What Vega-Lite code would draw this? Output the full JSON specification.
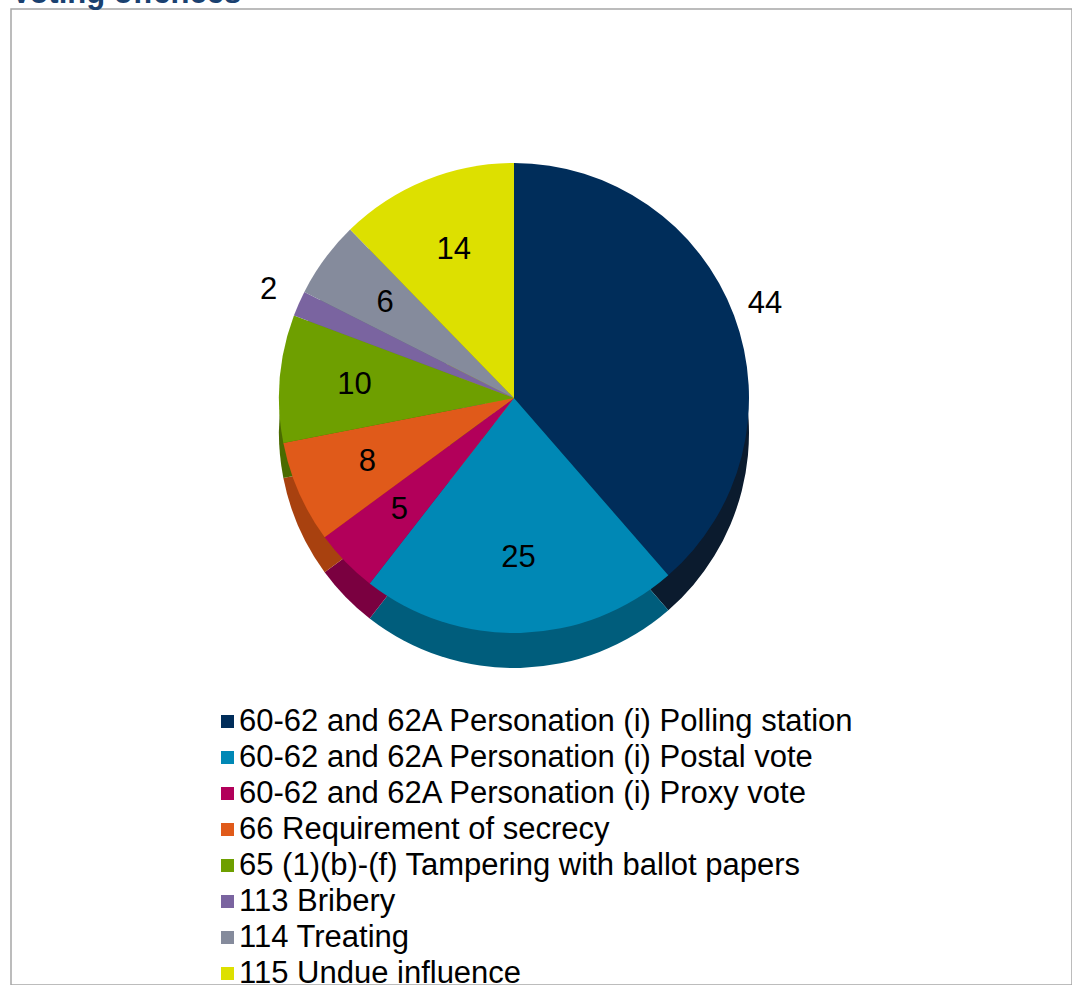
{
  "$schema": "https://vega.github.io/schema/vega-lite/v6.json",
  "width": 1061,
  "height": 976,
  "autosize": "none",
  "padding": {"left": 11, "top": 9, "right": 0, "bottom": 0},
  "background": "white",
  "view": {"stroke": "#a6a6a6", "strokeWidth": 1.5, "fill": "white"},
  "title": {
    "text": "Voting offences",
    "anchor": "start",
    "fontSize": 31,
    "font": "Liberation Sans",
    "fontWeight": "bold",
    "color": "#1a4170",
    "offset": 0,
    "dy": 25,
    "baseline": "alphabetic",
    "zindex": 1
  },
  "config": {
    "font": "Liberation Sans"
  },
  "data": {
    "values": [
      {"offence": "60-62 and 62A Personation (i) Polling station", "value": 44},
      {"offence": "60-62 and 62A Personation (i) Postal vote", "value": 25},
      {"offence": "60-62 and 62A Personation (i) Proxy vote", "value": 5},
      {"offence": "66 Requirement of secrecy", "value": 8},
      {"offence": "65 (1)(b)-(f) Tampering with ballot papers", "value": 10},
      {"offence": "113 Bribery", "value": 2},
      {"offence": "114 Treating", "value": 6},
      {"offence": "115 Undue influence", "value": 14}
    ]
  },
  "transform": [{"window": [{"op": "row_number", "as": "idx"}]}],
  "layer": [
    {
      "mark": {"type": "arc", "outerRadius": 235, "xOffset": -27.5, "yOffset": -64},
      "encoding": {
        "theta": {"field": "value", "type": "quantitative", "stack": true},
        "order": {"field": "idx", "type": "quantitative"},
        "color": {
          "field": "offence",
          "type": "nominal",
          "sort": null,
          "scale": {"range": ["#0b1b2e", "#005d7c", "#7a0040", "#a8410f", "#4a6b00", "#554670", "#5d6270", "#9a9c00"]},
          "legend": null
        }
      }
    },
    {
      "mark": {"type": "arc", "outerRadius": 235, "xOffset": -27.5, "yOffset": -99},
      "encoding": {
        "theta": {"field": "value", "type": "quantitative", "stack": true},
        "order": {"field": "idx", "type": "quantitative"},
        "color": {
          "field": "offence",
          "type": "nominal",
          "sort": null,
          "scale": {"range": ["#002d5a", "#0088b5", "#b2005a", "#e05a1a", "#6e9f00", "#7a64a0", "#858b9c", "#dde000"]},
          "legend": {
            "title": null,
            "orient": "none",
            "legendX": 201,
            "legendY": 697,
            "padding": 0,
            "symbolType": "square",
            "symbolSize": 169,
            "symbolStrokeWidth": 0,
            "labelFontSize": 31,
            "labelFont": "Liberation Sans",
            "labelColor": "#000000",
            "labelOffset": -4,
            "labelLimit": 900,
            "rowPadding": 4
          }
        }
      }
    },
    {
      "mark": {"type": "text", "xOffset": -27.5, "yOffset": -99, "fontSize": 31, "font": "Liberation Sans", "color": "#000000", "align": "center", "baseline": "middle"},
      "encoding": {
        "theta": {"field": "value", "type": "quantitative", "stack": true},
        "order": {"field": "idx", "type": "quantitative"},
        "radius": {"value": 160},
        "text": {"condition": {"test": "datum.value == 44 || datum.value == 2", "value": ""}, "field": "value", "type": "quantitative"}
      }
    },
    {
      "mark": {"type": "text", "xOffset": -27.5, "yOffset": -99, "fontSize": 31, "font": "Liberation Sans", "color": "#000000", "align": "center", "baseline": "middle"},
      "encoding": {
        "theta": {"field": "value", "type": "quantitative", "stack": true},
        "order": {"field": "idx", "type": "quantitative"},
        "radius": {"value": 268},
        "text": {"condition": {"test": "datum.value != 44 && datum.value != 2", "value": ""}, "field": "value", "type": "quantitative"}
      }
    }
  ],
  "resolve": {"scale": {"color": "independent"}}
}
